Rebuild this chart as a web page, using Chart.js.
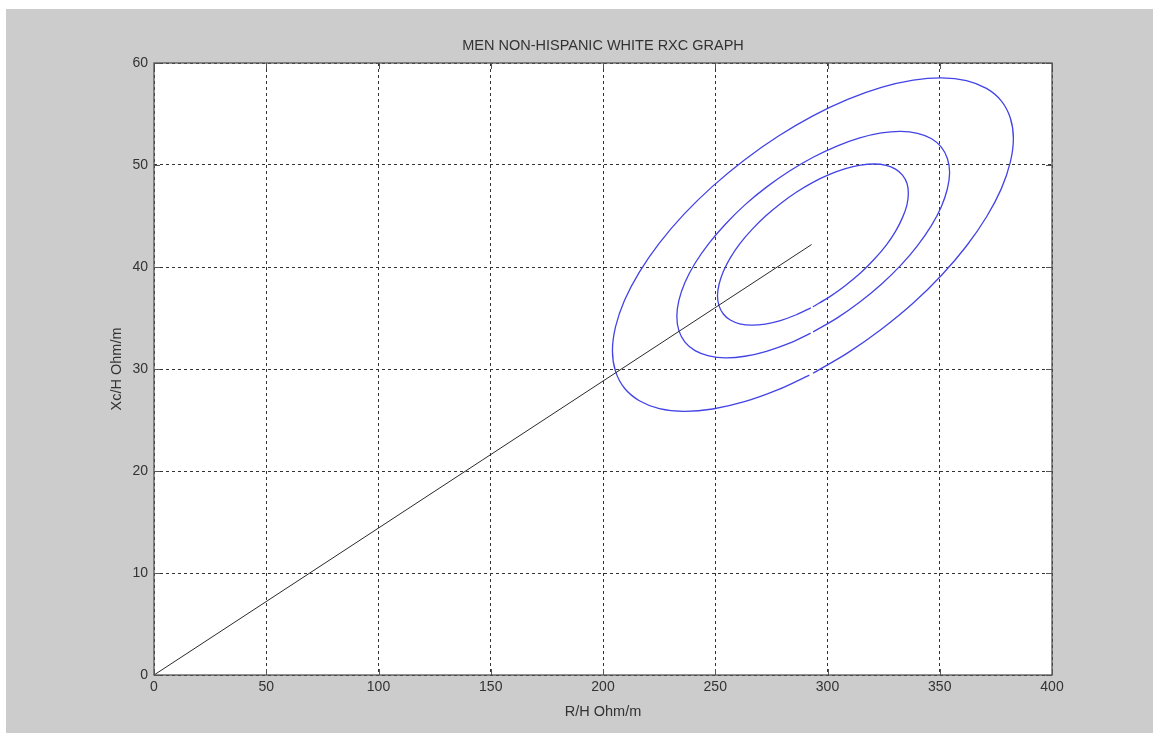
<!DOCTYPE html>
<html><head><meta charset="utf-8">
<script src="https://cdn.jsdelivr.net/npm/chart.js@4.4.0/dist/chart.umd.min.js"></script>
<style>
html,body{margin:0;padding:0;background:#fff;width:1153px;height:733px;overflow:hidden}
#wrap{position:absolute;left:6px;top:9px;width:1147px;height:724px;background:#cccccc}
canvas{display:block}
</style></head><body>
<div id="wrap"><canvas id="c" width="1147" height="724"></canvas></div>
<script>
// ---- data ----
const chartTitle = "MEN NON-HISPANIC WHITE RXC GRAPH";
const xLabel = "R/H Ohm/m";
const yLabel = "Xc/H Ohm/m";
const xTickValues = [0, 50, 100, 150, 200, 250, 300, 350, 400];
const yTickValues = [0, 10, 20, 30, 40, 50, 60];

// mean vector line (origin -> centre)
const vectorR  = [0, 292.9];
const vectorXc = [0, 42.2];

// 95% tolerance ellipse (outer)
const outerR  = [293.5,309.0,324.0,338.2,350.9,361.9,370.8,377.4,381.4,382.8,381.4,377.4,370.8,361.9,350.9,338.2,324.0,309.0,293.5,278.0,263.0,248.9,236.1,225.1,216.2,209.6,205.6,204.2,205.6,209.6,216.2,225.1,236.1,248.9,263.0,278.0,291.9];
const outerXc = [29.58,31.58,33.90,36.47,39.22,42.06,44.90,47.66,50.25,52.60,54.63,56.29,57.51,58.28,58.55,58.32,57.61,56.43,54.82,52.82,50.50,47.93,45.18,42.34,39.50,36.74,34.15,31.80,29.77,28.11,26.89,26.12,25.85,26.08,26.79,27.97,29.40];

// 75% tolerance ellipse (middle)
const middleR  = [293.6,304.2,314.4,324.0,332.7,340.1,346.2,350.7,353.4,354.4,353.4,350.7,346.2,340.1,332.7,324.0,314.4,304.2,293.6,283.1,272.8,263.2,254.6,247.1,241.0,236.5,233.8,232.9,233.8,236.5,241.0,247.1,254.6,263.2,272.8,283.1,292.5];
const middleXc = [33.64,34.99,36.57,38.31,40.18,42.10,44.03,45.91,47.67,49.26,50.64,51.76,52.60,53.11,53.30,53.15,52.66,51.86,50.76,49.41,47.83,46.09,44.22,42.30,40.37,38.49,36.73,35.14,33.76,32.64,31.80,31.29,31.10,31.25,31.74,32.54,33.51];

// 50% tolerance ellipse (inner)
const innerR  = [293.5,300.9,308.0,314.8,320.8,326.1,330.3,333.4,335.4,336.0,335.4,333.4,330.3,326.1,320.8,314.8,308.0,300.9,293.5,286.1,279.0,272.3,266.2,260.9,256.7,253.6,251.7,251.0,251.7,253.6,256.7,260.9,266.2,272.3,279.0,286.1,292.6];
const innerXc = [36.10,37.07,38.19,39.43,40.76,42.13,43.50,44.84,46.09,47.22,48.21,49.01,49.60,49.97,50.10,49.99,49.65,49.08,48.30,47.33,46.21,44.97,43.64,42.27,40.90,39.56,38.31,37.18,36.19,35.39,34.80,34.43,34.30,34.41,34.75,35.32,36.00];

// ---- build ----
const pts = (xs, ys) => xs.map((x, i) => ({x: x, y: ys[i]}));
const FONT = "'Liberation Sans', Arial, Helvetica, sans-serif";
const TEXT = '#333333';
const BLUE = '#4343e6';

const framePlugin = {
  id: 'frame',
  beforeDraw(chart) {
    const a = chart.chartArea, ctx = chart.ctx;
    ctx.save();
    ctx.fillStyle = '#ffffff';
    ctx.fillRect(a.left, a.top, a.right - a.left, a.bottom - a.top);
    ctx.restore();
  },
  afterDraw(chart) {
    const a = chart.chartArea, ctx = chart.ctx;
    const xs = chart.scales.x, ys = chart.scales.y;
    ctx.save();
    ctx.strokeStyle = '#555555';
    ctx.lineWidth = 1.3;
    ctx.strokeRect(a.left, a.top, a.right - a.left, a.bottom - a.top);
    ctx.lineWidth = 1;
    ctx.beginPath();
    xTickValues.forEach(v => {
      const p = Math.round(xs.getPixelForValue(v)) + 0.5;
      ctx.moveTo(p, a.bottom); ctx.lineTo(p, a.bottom - 6);
      ctx.moveTo(p, a.top); ctx.lineTo(p, a.top + 6);
    });
    yTickValues.forEach(v => {
      const p = Math.round(ys.getPixelForValue(v)) + 0.5;
      ctx.moveTo(a.left, p); ctx.lineTo(a.left + 6, p);
      ctx.moveTo(a.right, p); ctx.lineTo(a.right - 6, p);
    });
    ctx.stroke();
    ctx.restore();
  }
};

const lineDs = (label, xs, ys, color, width, tension) => ({
  label, data: pts(xs, ys), showLine: true, borderColor: color, borderWidth: width,
  pointRadius: 0, pointHoverRadius: 0, tension: tension, fill: false
});

new Chart(document.getElementById('c'), {
  type: 'scatter',
  data: {
    datasets: [
      lineDs('Vector', vectorR, vectorXc, '#2a2a2a', 1, 0),
      lineDs('95%', outerR, outerXc, BLUE, 1.3, 0.33),
      lineDs('75%', middleR, middleXc, BLUE, 1.3, 0.33),
      lineDs('50%', innerR, innerXc, BLUE, 1.3, 0.33)
    ]
  },
  options: {
    responsive: false,
    animation: false,
    devicePixelRatio: 1,
    layout: { padding: { left: 0, right: 101, top: 0, bottom: 0 } },
    plugins: {
      legend: { display: false },
      tooltip: { enabled: false },
      title: {
        display: true, text: chartTitle, color: TEXT, fullSize: false,
        font: { family: FONT, size: 14.5, weight: 'normal' },
        padding: { top: 28.5, bottom: 8.1 }
      }
    },
    scales: {
      x: {
        type: 'linear', min: 0, max: 400,
        afterBuildTicks: s => { s.ticks = xTickValues.map(v => ({value: v})); },
        afterFit: s => { s.height = 58; },
        ticks: { color: TEXT, font: { family: FONT, size: 14 }, padding: 4, maxRotation: 0 },
        grid: { color: '#333333', lineWidth: 1, drawTicks: false },
        border: { display: false, dash: [3, 3] },
        title: { display: true, text: xLabel, color: TEXT, font: { family: FONT, size: 14.5 }, padding: { top: 0, bottom: 12.6 } }
      },
      y: {
        type: 'linear', min: 0, max: 60,
        afterBuildTicks: s => { s.ticks = yTickValues.map(v => ({value: v})); },
        afterFit: s => { s.width = 148; },
        ticks: { color: TEXT, font: { family: FONT, size: 14 }, padding: 6 },
        grid: { color: '#333333', lineWidth: 1, drawTicks: false },
        border: { display: false, dash: [3, 3] },
        title: { display: true, text: yLabel, color: TEXT, font: { family: FONT, size: 14.5 }, padding: { top: 102, bottom: 0 } }
      }
    }
  },
  plugins: [framePlugin]
});
</script>
</body></html>
